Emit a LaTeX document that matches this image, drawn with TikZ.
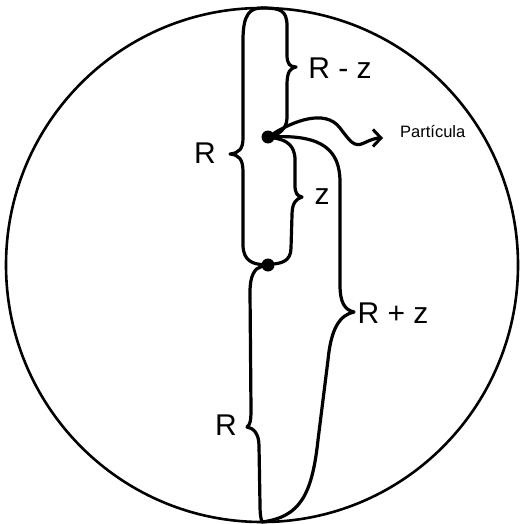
\documentclass[tikz,border=0pt]{standalone}
\usepackage{fontspec}
\setmainfont{Liberation Sans}
\usetikzlibrary{arrows.meta}

\begin{document}
\begin{tikzpicture}[
  x=1pt, y=-1pt,
  lab/.style={inner sep=0pt, font=\fontsize{30}{32}\selectfont},
  small/.style={inner sep=0pt, font=\fontsize{16.5}{18}\selectfont},
  brace/.style={line width=3.2pt, line join=round, line cap=round},
  arr/.style={brace, -{Straight Barb[length=8pt, width=17pt, line width=3pt]}},
  dot/.style={circle, fill, inner sep=0pt, minimum size=13pt}
]
  \useasboundingbox (0,0) rectangle (520,524);

  \draw[line width=2.6pt] (262,265) ellipse [x radius=256, y radius=257];

  \coordinate (top) at (262,8);
  \coordinate (bot) at (262,522);
  \node[dot] (part) at (268,137) {};
  \node[dot] (low)  at (268,265) {};

  % upper R : top -> lower dot
  \draw[brace] (top) .. controls (250,8) and (243,14) .. (243,40) -- (243,138)
    .. controls (243,149) and (239,153) .. (230,154)
    .. controls (239,155) and (243,159) .. (243,172) -- (243,245)
    .. controls (243,262) and (255,264) .. (low);
  \node[lab] (rup) at (205,153) {R};

  % R - z : top -> particle
  \draw[brace] (top) .. controls (280,8) and (287,10) .. (287,26) -- (287,55)
    .. controls (287,64) and (290,67) .. (296,67)
    .. controls (290,68) and (287,72) .. (287,85) -- (287,118)
    .. controls (287,130) and (276,135) .. (part);
  \node[lab] (rmz) at (340,68) {R - z};

  % z : particle -> lower dot
  \draw[brace] (part) .. controls (286,140) and (295,145) .. (295,160) -- (295,185)
    .. controls (295,193) and (297,196) .. (302,197)
    .. controls (296,199) and (292,203) .. (292,215) -- (291,248)
    .. controls (291,262) and (280,263) .. (low);
  \node[lab] (zz) at (322,197) {z};

  % R + z : particle -> bottom of the sphere
  \draw[brace] (part) .. controls (322,135) and (340,150) .. (340,182) -- (340,285)
    .. controls (340,303) and (345,310) .. (354,312)
    .. controls (340,315) and (331,328) .. (328,360) -- (318,440)
    .. controls (312,495) and (300,517) .. (bot);
  \node[lab] (rpz) at (393,313) {R + z};

  % lower R : lower dot -> bottom
  \draw[brace] (low) .. controls (255,268) and (250,275) .. (250,292) -- (251,410)
    .. controls (251,421) and (250,425) .. (247,427)
    .. controls (253,428) and (259,433) .. (259,446) -- (260,505)
    .. controls (260,515) and (261,519) .. (bot);
  \node[lab] (rlow) at (226,425) {R};

  % particle label
  \coordinate (tip) at (383,138);
  \draw[arr] (part) .. controls (292,122) and (325,108) .. (340,128)
    .. controls (350,141) and (354,148) .. (364,143)
    .. controls (370,140) and (376,138) .. (tip);
  \node[small, anchor=west] (plab) at (400,132) {Partícula};
\end{tikzpicture}
\end{document}
